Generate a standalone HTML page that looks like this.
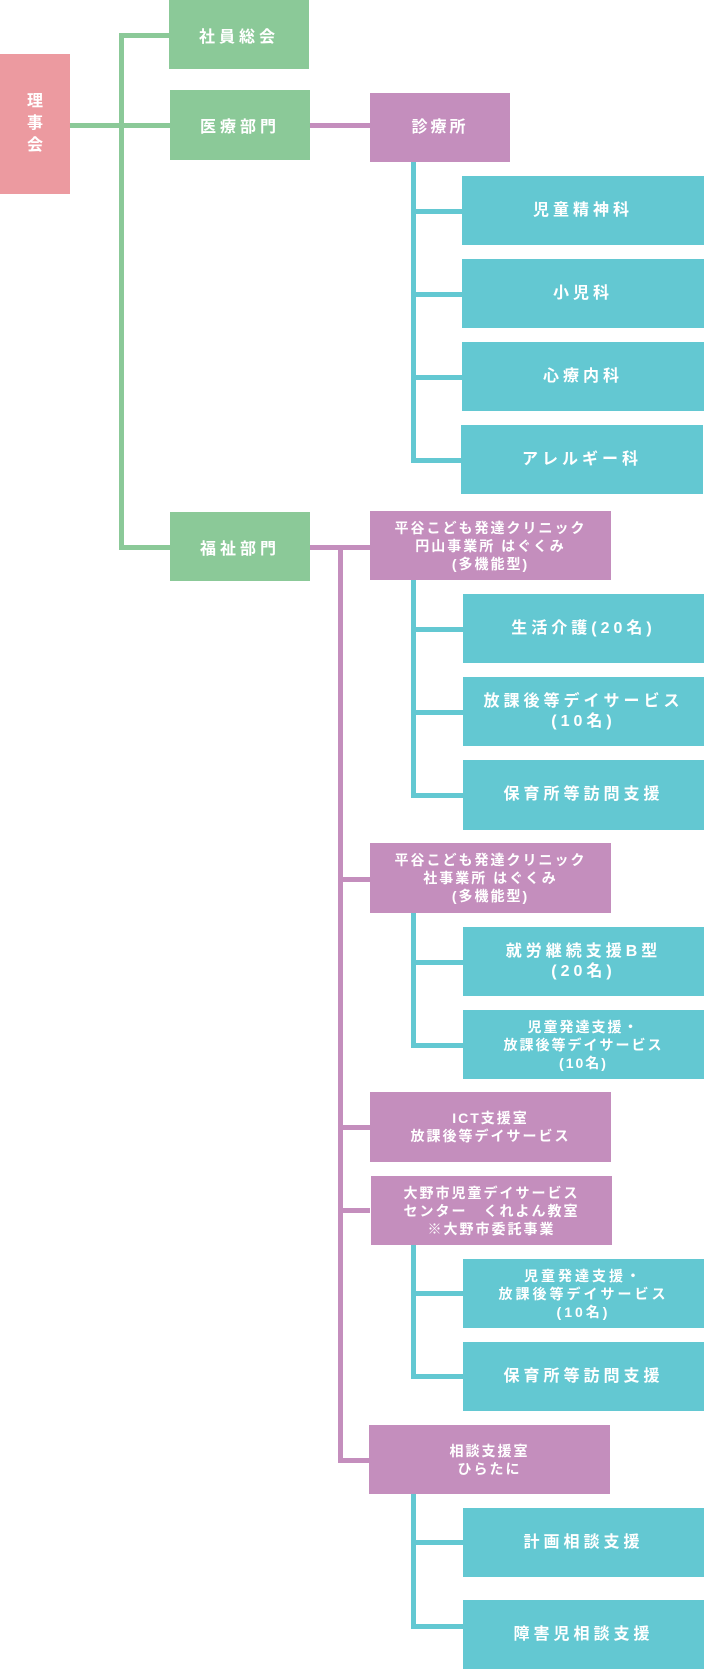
<!DOCTYPE html>
<html><head><meta charset="utf-8"><style>
body{margin:0;width:704px;height:1669px;position:relative;background:#fff;overflow:hidden;font-family:"Liberation Sans","Noto Sans CJK JP",sans-serif;font-weight:bold;color:#fff}
.b{position:absolute;display:flex;align-items:center;justify-content:center;text-align:center;box-sizing:border-box}
.g{background:#8bc998;font-size:16px;letter-spacing:4px}
.p{background:#c48ebd;font-size:14px;letter-spacing:2px;line-height:18px}
.t{background:#63c8d2;font-size:16px;letter-spacing:4px;line-height:20px}
.l{position:absolute}
.lg{background:#8bc998}.lp{background:#c48ebd}.lt{background:#63c8d2}
</style></head><body>
<div class="l lg" style="left:70px;top:123px;width:100px;height:5px"></div>
<div class="l lg" style="left:119px;top:33px;width:5px;height:517px"></div>
<div class="l lg" style="left:119px;top:33px;width:51px;height:5px"></div>
<div class="l lg" style="left:119px;top:545px;width:51px;height:5px"></div>
<div class="l lp" style="left:310px;top:123px;width:60px;height:5px"></div>
<div class="l lp" style="left:310px;top:545px;width:60px;height:5px"></div>
<div class="l lp" style="left:338px;top:545px;width:5px;height:918px"></div>
<div class="l lp" style="left:338px;top:877px;width:32px;height:5px"></div>
<div class="l lp" style="left:338px;top:1125px;width:32px;height:5px"></div>
<div class="l lp" style="left:338px;top:1208px;width:32px;height:5px"></div>
<div class="l lp" style="left:338px;top:1458px;width:32px;height:5px"></div>
<div class="l lt" style="left:411px;top:162px;width:5px;height:300px"></div>
<div class="l lt" style="left:411px;top:209px;width:52px;height:5px"></div>
<div class="l lt" style="left:411px;top:292px;width:52px;height:5px"></div>
<div class="l lt" style="left:411px;top:375px;width:52px;height:5px"></div>
<div class="l lt" style="left:411px;top:458px;width:52px;height:5px"></div>
<div class="l lt" style="left:411px;top:580px;width:5px;height:218px"></div>
<div class="l lt" style="left:411px;top:627px;width:52px;height:5px"></div>
<div class="l lt" style="left:411px;top:710px;width:52px;height:5px"></div>
<div class="l lt" style="left:411px;top:793px;width:52px;height:5px"></div>
<div class="l lt" style="left:411px;top:913px;width:5px;height:134px"></div>
<div class="l lt" style="left:411px;top:960px;width:52px;height:5px"></div>
<div class="l lt" style="left:411px;top:1043px;width:52px;height:5px"></div>
<div class="l lt" style="left:411px;top:1245px;width:5px;height:134px"></div>
<div class="l lt" style="left:411px;top:1291px;width:52px;height:5px"></div>
<div class="l lt" style="left:411px;top:1374px;width:52px;height:5px"></div>
<div class="l lt" style="left:411px;top:1494px;width:5px;height:134px"></div>
<div class="l lt" style="left:411px;top:1540px;width:52px;height:5px"></div>
<div class="l lt" style="left:411px;top:1624px;width:52px;height:5px"></div>

<div class="b" style="left:0;top:54px;width:70px;height:140px;background:#ec9aa0;font-size:16px;line-height:22px">理<br>事<br>会</div>
<div class="b g" style="left:169px;top:0;width:140px;height:69px">社員総会</div>
<div class="b g" style="left:170px;top:90px;width:140px;height:70px">医療部門</div>
<div class="b g" style="left:170px;top:512px;width:140px;height:69px">福祉部門</div>
<div class="b p" style="left:370px;top:93px;width:140px;height:69px;font-size:16px;letter-spacing:3px">診療所</div>

<div class="b t" style="left:462px;top:176px;width:242px;height:69px">児童精神科</div>
<div class="b t" style="left:462px;top:259px;width:242px;height:69px">小児科</div>
<div class="b t" style="left:462px;top:342px;width:242px;height:69px">心療内科</div>
<div class="b t" style="left:461px;top:425px;width:242px;height:69px">アレルギー科</div>

<div class="b p" style="left:370px;top:511px;width:241px;height:69px">平谷こども発達クリニック<br>円山事業所 はぐくみ<br>(多機能型)</div>
<div class="b t" style="left:463px;top:594px;width:241px;height:69px">生活介護(20名)</div>
<div class="b t" style="left:463px;top:677px;width:241px;height:69px">放課後等デイサービス<br>(10名)</div>
<div class="b t" style="left:463px;top:760px;width:241px;height:70px">保育所等訪問支援</div>

<div class="b p" style="left:370px;top:843px;width:241px;height:70px">平谷こども発達クリニック<br>社事業所 はぐくみ<br>(多機能型)</div>
<div class="b t" style="left:463px;top:927px;width:241px;height:69px">就労継続支援B型<br>(20名)</div>
<div class="b t" style="left:463px;top:1010px;width:241px;height:69px;font-size:14px;letter-spacing:2px;line-height:18px">児童発達支援・<br>放課後等デイサービス<br>(10名)</div>

<div class="b p" style="left:370px;top:1092px;width:241px;height:70px">ICT支援室<br>放課後等デイサービス</div>
<div class="b p" style="left:371px;top:1176px;width:241px;height:69px">大野市児童デイサービス<br>センター　くれよん教室<br>※大野市委託事業</div>
<div class="b t" style="left:463px;top:1259px;width:241px;height:69px;font-size:14px;letter-spacing:3px;line-height:18px">児童発達支援・<br>放課後等デイサービス<br>(10名)</div>
<div class="b t" style="left:463px;top:1342px;width:241px;height:69px">保育所等訪問支援</div>

<div class="b p" style="left:369px;top:1425px;width:241px;height:69px">相談支援室<br>ひらたに</div>
<div class="b t" style="left:463px;top:1508px;width:241px;height:69px">計画相談支援</div>
<div class="b t" style="left:463px;top:1600px;width:241px;height:69px">障害児相談支援</div>
</body></html>
